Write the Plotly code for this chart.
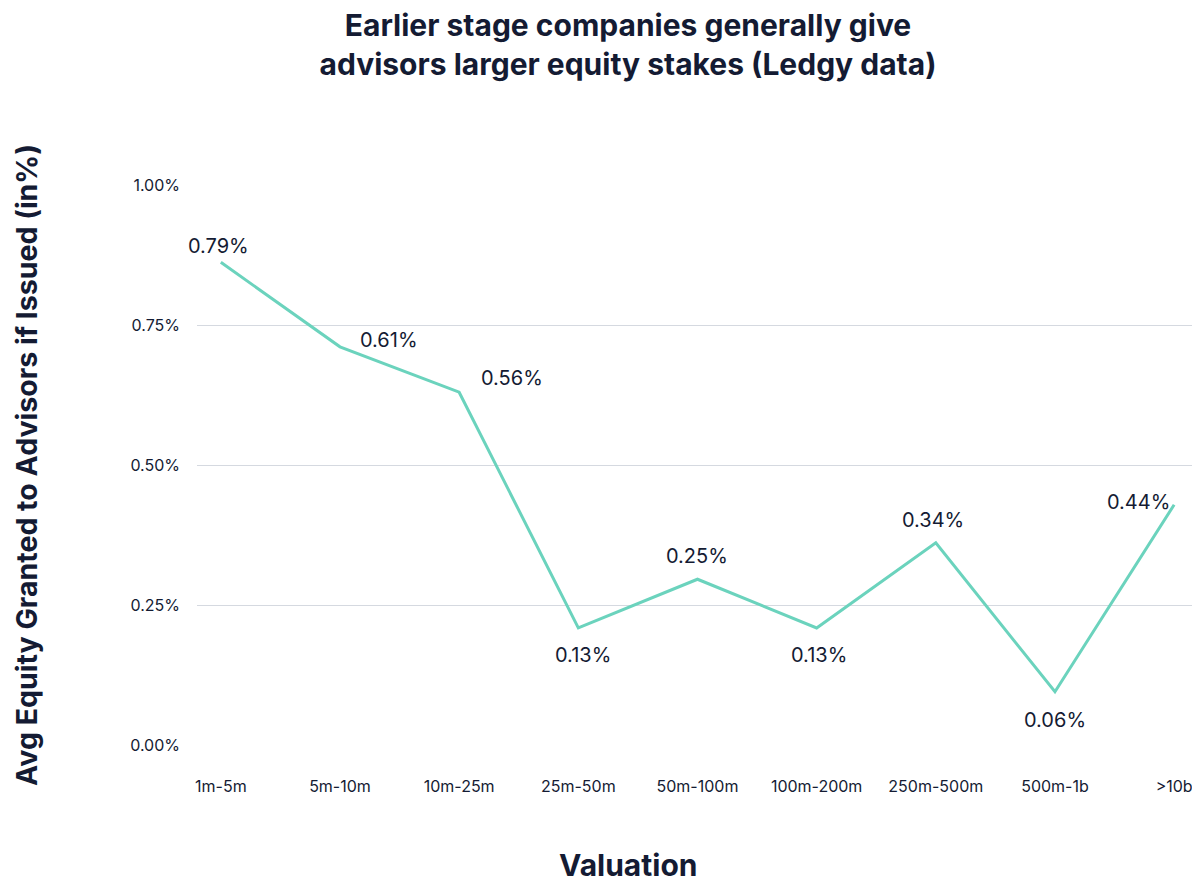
import plotly.graph_objects as go

# valuation buckets and the avg equity (in %) as plotted
valuations = ["1m-5m", "5m-10m", "10m-25m", "25m-50m", "50m-100m",
              "100m-200m", "250m-500m", "500m-1b", ">10b"]
avg_equity = [0.862, 0.711, 0.630, 0.209, 0.296, 0.209, 0.361, 0.095, 0.429]
point_labels = ["0.79%", "0.61%", "0.56%", "0.13%", "0.25%",
                "0.13%", "0.34%", "0.06%", "0.44%"]

y_ticks = [0, 0.25, 0.5, 0.75, 1.0]
y_tick_labels = ["0.00%", "0.25%", "0.50%", "0.75%", "1.00%"]

# label offsets (px) from each point
label_dx = [-2, 49, 53, 5, 0, 2, -3, 0, -36]
label_dy = [16, 7, 14, -27, 23, -27, 23, -28, 3]

navy = "#141b33"
font = "Inter, Roboto, sans-serif"

fig = go.Figure()
fig.add_trace(go.Scatter(
    x=valuations, y=avg_equity, mode="lines",
    line=dict(color="#6bd3bd", width=3),
    cliponaxis=False, hoverinfo="skip",
))

for i, (v, y, t) in enumerate(zip(valuations, avg_equity, point_labels)):
    fig.add_annotation(
        x=v, y=y, text=t, showarrow=False,
        xanchor="center", yanchor="middle",
        xshift=label_dx[i], yshift=label_dy[i],
        font=dict(size=20, color=navy, family=font),
    )

fig.add_annotation(
    x=(628 - 197) / 995, y=-0.214, xref="paper", yref="paper",
    text="<b>Valuation</b>", showarrow=False,
    xanchor="center", yanchor="middle",
    font=dict(size=30, color=navy, family=font),
)

fig.update_layout(
    width=1200, height=889,
    paper_bgcolor="white", plot_bgcolor="white",
    margin=dict(l=189, r=16, t=177, b=152),
    showlegend=False,
    font=dict(family=font, color=navy),
    title=dict(
        text="<b>Earlier stage companies generally give<br>advisors larger equity stakes (Ledgy data)</b>",
        x=620 / 1200, xref="container", xanchor="center",
        y=1 - 28 / 889, yref="container", yanchor="middle",
        font=dict(size=30, color=navy, family=font),
    ),
    xaxis=dict(
        type="category", range=[-0.2, 8.15],
        showgrid=False, zeroline=False, showline=False,
        ticks="", ticklabelstandoff=30,
        tickfont=dict(size=16, color=navy, family=font),
    ),
    yaxis=dict(
        range=[0, 1], tickvals=y_ticks, ticktext=y_tick_labels,
        showgrid=True, gridcolor="#d5d9e0", gridwidth=1,
        zeroline=False, showline=False, ticks="",
        ticklabelstandoff=16,
        tickfont=dict(size=16, color=navy, family=font),
        title=dict(text="<b>Avg Equity Granted to Advisors if Issued (in%)</b>",
                   standoff=84, font=dict(size=28.5, color=navy, family=font)),
    ),
)

fig.write_html("out.html")
